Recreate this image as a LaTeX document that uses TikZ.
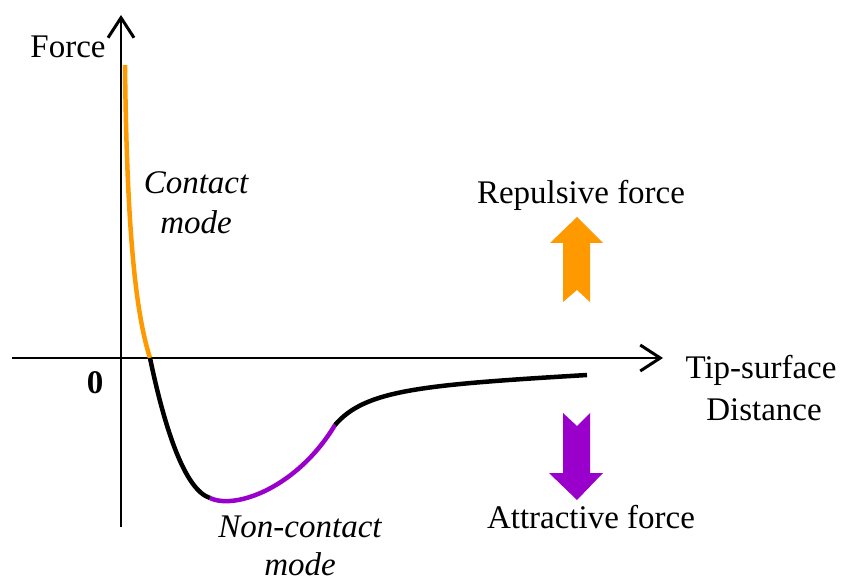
\documentclass[tikz,border=0pt]{standalone}
\usepackage{fontspec}
\setmainfont{Liberation Serif}
\usetikzlibrary{arrows.meta,positioning}
\definecolor{repcol}{RGB}{255,153,0}
\definecolor{attcol}{RGB}{153,0,204}
\begin{document}
\begin{tikzpicture}[x=1pt,y=-1pt,>={Straight Barb[length=20pt,width=26pt,line width=3pt]},
    axis/.style={line width=2.6pt,->},
    curve/.style={line width=4.5pt},
    lbl/.style={font=\fontsize{33}{38}\selectfont,inner sep=0pt}]
    \useasboundingbox (0,0) rectangle (841,580);
    % axes
    \coordinate (o) at (121,358);
    \coordinate (ybot) at (121,527);
    \coordinate (ytop) at (121,15);
    \coordinate (xleft) at (12,358);
    \coordinate (xright) at (663,358);
    \draw[axis] (ybot) -- (ytop);
    \draw[axis] (xleft) -- (xright);

    \node (force) [lbl] at (68,47) {Force};
    \node (zero) [lbl] at (95,383) {\bfseries 0};
    \node (tip) [lbl] at (761,370) {Tip-surface};
    \node (dist) [lbl] at (764,410) {Distance};

    % force curve
    \coordinate (c0) at (125,65);
    \coordinate (c1) at (150,358);
    \coordinate (c2) at (210,498);
    \coordinate (c3) at (335,425);
    \coordinate (c4) at (587,375);
    \draw[curve, repcol] (c0) .. controls (127,250) and (138,320) .. (c1);
    \draw[curve, black] (c1) .. controls (165,430) and (185,490) .. (c2);
    \draw[curve, attcol] (c2) .. controls (235,510) and (297,488) .. (c3);
    \draw[curve, black] (c3) .. controls (365,390) and (420,385) .. (c4);

    \node (contact) [lbl, font=\fontsize{33}{38}\selectfont\itshape] at (196,183) {Contact};
    \node (cmode) [lbl, font=\fontsize{33}{38}\selectfont\itshape] at (196,222) {mode};
    \node (noncontact) [lbl, font=\fontsize{33}{38}\selectfont\itshape] at (300,527) {Non-contact};
    \node (nmode) [lbl, font=\fontsize{33}{38}\selectfont\itshape] at (300,564) {mode};

    % block arrows
    \node (rep) [lbl] at (581,195) {Repulsive force};
    \fill[repcol] (577,217) -- (603,243) -- (590,243) -- (590,302) -- (577,290) -- (563,302) -- (563,243) -- (550,243) -- cycle;
    \node (att) [lbl] at (591,517) {Attractive force};
    \fill[attcol] (577,500) -- (603,473) -- (590,473) -- (590,413) -- (577,426) -- (563,413) -- (563,473) -- (549,473) -- cycle;
\end{tikzpicture}
\end{document}
